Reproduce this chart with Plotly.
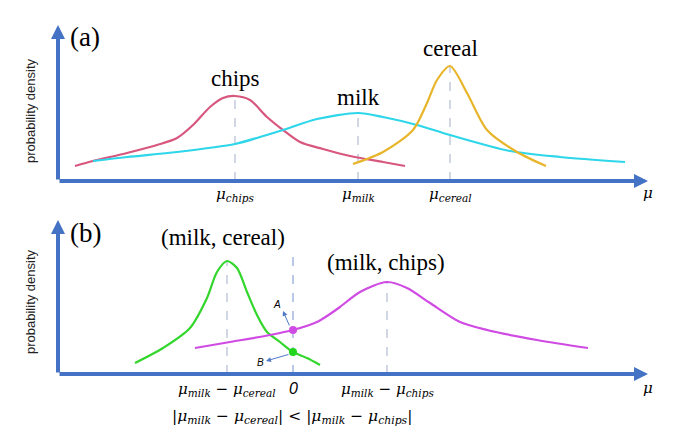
import plotly.graph_objects as go
from plotly.subplots import make_subplots

# ---- panel (a): single item distributions ----
chips_x = [1.7, 3.5, 6.9, 9.9, 11.9, 13.5, 15.2, 16.5, 17.7, 19.2, 20.9, 22.5, 24.2, 26.5, 29.2, 32.5, 34.7]
chips_y = [1.5, 2.0, 2.8, 3.6, 4.3, 5.6, 7.4, 8.3, 8.5, 8.1, 6.4, 5.1, 3.9, 3.2, 2.5, 1.9, 1.5]
milk_x = [3.5, 6.9, 11.9, 17.7, 20.2, 22.5, 25.9, 30.0, 32.5, 35.9, 39.2, 45.2, 50.2, 56.7]
milk_y = [2.0, 2.4, 2.9, 3.7, 4.4, 5.1, 6.2, 6.8, 6.4, 5.6, 4.6, 3.0, 2.4, 1.9]
cereal_x = [29.5, 32.5, 35.5, 36.9, 37.9, 39.2, 40.9, 42.9, 45.9, 48.8]
cereal_y = [1.7, 2.9, 5.1, 7.8, 10.1, 11.5, 8.8, 5.1, 2.9, 1.5]
peaks_a = {"chips": (17.7, 8.5), "milk": (30.0, 6.8), "cereal": (39.2, 11.5)}

# ---- panel (b): pair differences ----
mc_x = [7.7, 10.5, 13.2, 14.9, 15.9, 16.9, 17.9, 18.9, 19.9, 20.9, 22.2, 23.5, 24.9, 26.2]
mc_y = [1.1, 2.6, 4.6, 7.6, 10.2, 11.3, 10.6, 8.2, 5.9, 4.2, 3.2, 2.2, 1.6, 0.9]
mch_x = [13.7, 17.2, 21.2, 23.5, 25.9, 27.2, 28.2, 30.2, 32.9, 34.9, 37.2, 40.2, 42.9, 47.9, 53.0]
mch_y = [2.6, 3.2, 3.9, 4.4, 5.2, 6.0, 6.7, 8.2, 9.2, 8.6, 7.1, 5.2, 4.4, 3.4, 2.6]
peaks_b = [(16.9, 11.3), (32.9, 9.2)]
zero_x = 23.5
point_a = 4.4
point_b = 2.2

AXC = "#4472C4"
DASH = "#A3AFCB"
SERIF = "Liberation Serif"
MATH = "DejaVu Serif"

fig = make_subplots(rows=2, cols=1)

def curve(x, y, color, row):
    fig.add_trace(go.Scatter(x=x, y=y, mode="lines", line=dict(color=color, width=2.2, shape="spline", smoothing=0.8),
                             hoverinfo="skip", showlegend=False), row=row, col=1)

def vdash(x, y1, row, color=DASH):
    fig.add_trace(go.Scatter(x=[x, x], y=[0, y1], mode="lines", line=dict(color=color, width=1, dash="dash"),
                             hoverinfo="skip", showlegend=False), row=row, col=1)

for name, (px_, py_) in peaks_a.items():
    vdash(px_, py_, 1)
curve(chips_x, chips_y, "#D8577F", 1)
curve(milk_x, milk_y, "#2ED6EA", 1)
curve(cereal_x, cereal_y, "#E8B52A", 1)

for px_, py_ in peaks_b:
    vdash(px_, py_, 2)
vdash(zero_x, 12.5, 2, color="#7292CE")
curve(mc_x, mc_y, "#33D62B", 2)
curve(mch_x, mch_y, "#D04BE3", 2)
fig.add_trace(go.Scatter(x=[zero_x], y=[point_a], mode="markers", marker=dict(color="#D04BE3", size=8),
                         hoverinfo="skip", showlegend=False), row=2, col=1)
fig.add_trace(go.Scatter(x=[zero_x], y=[point_b], mode="markers", marker=dict(color="#22D61E", size=8),
                         hoverinfo="skip", showlegend=False), row=2, col=1)

ann = []
# axis arrows
for xr, yr, ytop in [("x", "y", 15.6), ("x2", "y2", 15.4)]:
    ann.append(dict(x=59, y=0, ax=0, ay=0, xref=xr, yref=yr, axref=xr, ayref=yr, text="", showarrow=True,
                    arrowhead=2, arrowsize=0.7, arrowwidth=4, arrowcolor=AXC))
    ann.append(dict(x=0, y=ytop, ax=0, ay=0, xref=xr, yref=yr, axref=xr, ayref=yr, text="", showarrow=True,
                    arrowhead=2, arrowsize=0.7, arrowwidth=4, arrowcolor=AXC))

def txt(x, y, t, xr, yr, size, fam=SERIF, color="black", **kw):
    ann.append(dict(x=x, y=y, xref=xr, yref=yr, text=t, showarrow=False, font=dict(size=size, family=fam, color=color), **kw))

txt(17.7, 10.3, "chips", "x", "y", 23)
txt(30.0, 8.4, "milk", "x", "y", 23)
txt(39.2, 13.3, "cereal", "x", "y", 23)
txt(1.0, 14.4, "(a)", "x", "y", 27, xanchor="left")
txt(1.0, 14.1, "(b)", "x2", "y2", 27, xanchor="left")
txt(16.5, 13.7, "(milk, cereal)", "x2", "y2", 23)
txt(32.8, 11.2, "(milk, chips)", "x2", "y2", 23)

# tick labels
txt(17.7, -1.3, "<i>μ<sub>chips</sub></i>", "x", "y", 15, fam=MATH)
txt(30.0, -1.3, "<i>μ<sub>milk</sub></i>", "x", "y", 15, fam=MATH)
txt(39.2, -1.3, "<i>μ<sub>cereal</sub></i>", "x", "y", 15, fam=MATH)
txt(59.0, -1.2, "<i>μ</i>", "x", "y", 15, fam=MATH)
txt(16.9, -1.5, "<i>μ<sub>milk</sub></i> − <i>μ<sub>cereal</sub></i>", "x2", "y2", 15, fam=MATH)
txt(zero_x, -1.4, "<i>0</i>", "x2", "y2", 16, fam="Liberation Sans")
txt(32.9, -1.5, "<i>μ<sub>milk</sub></i> − <i>μ<sub>chips</sub></i>", "x2", "y2", 15, fam=MATH)
txt(59.0, -1.4, "<i>μ</i>", "x2", "y2", 15, fam=MATH)
txt(23.4, -4.3, "|<i>μ<sub>milk</sub></i> − <i>μ<sub>cereal</sub></i>| &lt; |<i>μ<sub>milk</sub></i> − <i>μ<sub>chips</sub></i>|",
    "x2", "y2", 15.5, fam=MATH)

# y titles
txt(-2.8, 7.0, "probability density", "x", "y", 13, fam="Liberation Sans", color="#222222", textangle=-90)
txt(-2.8, 7.2, "probability density", "x2", "y2", 13, fam="Liberation Sans", color="#222222", textangle=-90)

# A / B pointers
ann.append(dict(x=22.5, y=6.3, ax=23.2, ay=4.7, xref="x2", yref="y2", axref="x2", ayref="y2", text="",
                showarrow=True, arrowhead=2, arrowsize=1, arrowwidth=1, arrowcolor="#4F79C8"))
ann.append(dict(x=20.8, y=1.3, ax=23.2, ay=2.0, xref="x2", yref="y2", axref="x2", ayref="y2", text="",
                showarrow=True, arrowhead=2, arrowsize=1, arrowwidth=1, arrowcolor="#4F79C8"))
txt(21.9, 7.0, "<i>A</i>", "x2", "y2", 10, fam="Liberation Sans")
txt(20.2, 1.2, "<i>B</i>", "x2", "y2", 10, fam="Liberation Sans")

# the page keeps an 8px body margin, so the figure is 16px smaller and ranges are shifted to match
ax_common = dict(showgrid=False, zeroline=False, showticklabels=False, ticks="", showline=False)
split = 1 - 192 / 422
fig.update_layout(
    width=657, height=422, margin=dict(l=0, r=0, t=0, b=0),
    paper_bgcolor="white", plot_bgcolor="white", showlegend=False,
    annotations=ann,
    xaxis=dict(domain=[0, 1], range=[-5.0, 60.7], **ax_common),
    yaxis=dict(domain=[split, 1], range=[-1.9, 17.3], **ax_common),
    xaxis2=dict(domain=[0, 1], range=[-5.0, 60.7], **ax_common),
    yaxis2=dict(domain=[0, split], range=[-5.6, 17.4], **ax_common),
)

fig.write_html("out.html")
